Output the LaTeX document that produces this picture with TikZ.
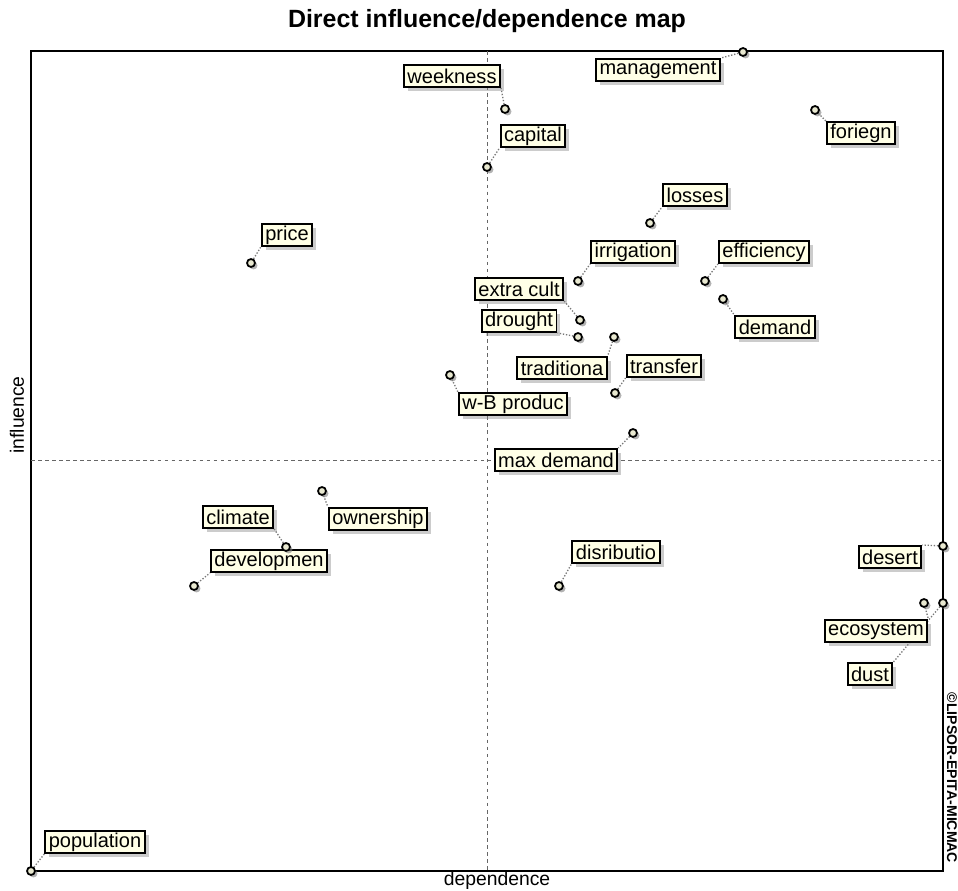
\documentclass[tikz,border=0pt]{standalone}
\usepackage{fontspec}
\setmainfont{Liberation Sans}
\usetikzlibrary{shadows}
\pgfdeclarelayer{background}
\pgfsetlayers{background,main}
\definecolor{labelfill}{RGB}{255,255,230}
\definecolor{pointfill}{RGB}{232,232,208}
\definecolor{linkgray}{RGB}{120,120,120}
\begin{document}
\begin{tikzpicture}[x=0.02cm,y=-0.02cm]
\tikzstyle{varlabel}=[draw,line width=1.1pt,fill=labelfill,inner xsep=0.07cm,inner ysep=0pt,minimum height=0.44cm,font=\fontsize{11.4}{13}\selectfont,drop shadow={shadow xshift=0.08cm,shadow yshift=-0.08cm,opacity=0.4}]
\tikzstyle{varpoint}=[draw,circle,line width=1pt,fill=pointfill,minimum size=0.16cm,inner sep=0pt,drop shadow={shadow xshift=0.05cm,shadow yshift=-0.05cm,opacity=0.6}]
\tikzstyle{link}=[densely dotted,draw=linkgray,line width=0.75pt,double=white,double distance=1.1pt]
\tikzstyle{axis}=[dash pattern=on 2pt off 2pt,gray!80!black,line width=0.5pt]
\useasboundingbox (0,0) rectangle (958,891);
% frame and axes
\draw[line width=0.9pt] (31,51) rectangle (943,871);
\draw[axis] (487,51) -- (487,871);
\draw[axis] (31,460) -- (943,460);
\node[font=\fontsize{14.2}{16}\selectfont\bfseries] (title) at (487,21) {Direct influence/dependence map};
\node[rotate=90,font=\fontsize{11}{13}\selectfont] (infl) at (17,415) {influence};
\node[font=\fontsize{11}{13}\selectfont] (dep) at (497,881) {dependence};
\node[rotate=-90,font=\fontsize{8}{10}\selectfont\bfseries] (copy) at (952,778) {©LIPSOR-EPITA-MICMAC};
% labels
\node[varlabel] (lweek) at (452,76) {weekness};
\node[varlabel] (lcap) at (533,136) {capital};
\node[varlabel] (lman) at (658,70) {management};
\node[varlabel] (lfor) at (861,133) {foriegn};
\node[varlabel] (llos) at (695,195) {losses};
\node[varlabel] (lirr) at (633,252) {irrigation};
\node[varlabel] (leff) at (764,252) {efficiency};
\node[varlabel] (ldem) at (775,327) {demand};
\node[varlabel] (lpri) at (287,235) {price};
\node[varlabel] (lext) at (519,289) {extra cult};
\node[varlabel] (ldro) at (519,321) {drought};
\node[varlabel] (ltra) at (562,368) {traditiona};
\node[varlabel] (ltrf) at (664,366) {transfer};
\node[varlabel] (lwbp) at (513,404) {w-B produc};
\node[varlabel] (lmax) at (556,460) {max demand};
\node[varlabel] (lcli) at (238,517) {climate};
\node[varlabel] (lown) at (378,519) {ownership};
\node[varlabel] (ldev) at (269,561) {developmen};
\node[varlabel] (ldis) at (616,552) {disributio};
\node[varlabel] (ldes) at (890,557) {desert};
\node[varlabel] (leco) at (876,631) {ecosystem};
\node[varlabel] (ldus) at (870,674) {dust};
\node[varlabel] (lpop) at (95,842) {population};
% points
\node[varpoint] (pweek) at (505,109) {};
\node[varpoint] (pcap) at (487,167) {};
\node[varpoint] (pman) at (743,52) {};
\node[varpoint] (pfor) at (815,110) {};
\node[varpoint] (plos) at (650,223) {};
\node[varpoint] (pirr) at (578,281) {};
\node[varpoint] (peff) at (705,281) {};
\node[varpoint] (pdem) at (723,299) {};
\node[varpoint] (ppri) at (251,263) {};
\node[varpoint] (pext) at (580,320) {};
\node[varpoint] (pdro) at (578,337) {};
\node[varpoint] (ptra) at (614,337) {};
\node[varpoint] (ptrf) at (615,393) {};
\node[varpoint] (pwbp) at (450,375) {};
\node[varpoint] (pmax) at (633,433) {};
\node[varpoint] (pcli) at (286,547) {};
\node[varpoint] (pown) at (322,491) {};
\node[varpoint] (pdev) at (194,586) {};
\node[varpoint] (pdis) at (559,586) {};
\node[varpoint] (pdes) at (943,546) {};
\node[varpoint] (peco) at (924,603) {};
\node[varpoint] (pdus) at (943,603) {};
\node[varpoint] (ppop) at (31,871) {};
% links
\begin{pgfonlayer}{background}
\draw[link] (pweek) edge (lweek.south east);
\draw[link] (pcap) edge (lcap.south west);
\draw[link] (pman) edge (lman.north east);
\draw[link] (pfor) edge (lfor.north west);
\draw[link] (plos) edge (llos.south west);
\draw[link] (pirr) edge (lirr.south west);
\draw[link] (peff) edge (leff.south west);
\draw[link] (pdem) edge (ldem.north west);
\draw[link] (ppri) edge (lpri.south west);
\draw[link] (pext) edge (lext.south east);
\draw[link] (pdro) edge (ldro.south east);
\draw[link] (ptra) edge (ltra.north east);
\draw[link] (ptrf) edge (ltrf.south west);
\draw[link] (pwbp) edge (lwbp.north west);
\draw[link] (pmax) edge (lmax.north east);
\draw[link] (pcli) edge (lcli.south east);
\draw[link] (pown) edge (lown.north west);
\draw[link] (pdev) edge (ldev.south west);
\draw[link] (pdis) edge (ldis.south west);
\draw[link] (pdes) edge (ldes.north east);
\draw[link] (peco) edge (leco.north east);
\draw[link] (pdus) edge (ldus.north east);
\draw[link] (ppop) edge (lpop.south west);
\end{pgfonlayer}
\end{tikzpicture}
\end{document}
